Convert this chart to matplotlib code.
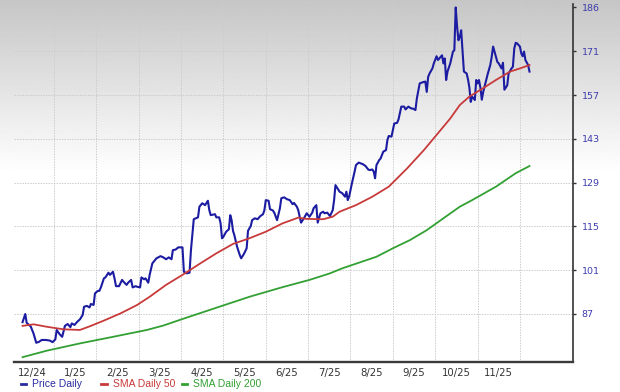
import matplotlib
matplotlib.use('Agg')
import matplotlib.pyplot as plt
from matplotlib.lines import Line2D
import numpy as np
import pandas as pd

# daily price
price_dates = [
    '2024-12-09', '2024-12-11', '2024-12-12', '2024-12-15', '2024-12-17', '2024-12-19', '2024-12-21',
    '2024-12-23', '2024-12-26', '2024-12-29', '2024-12-31',
    '2025-01-02', '2025-01-03', '2025-01-05', '2025-01-07', '2025-01-09', '2025-01-11', '2025-01-13',
    '2025-01-14', '2025-01-16', '2025-01-18', '2025-01-20', '2025-01-22', '2025-01-23', '2025-01-25',
    '2025-01-27', '2025-01-28', '2025-01-30', '2025-01-31',
    '2025-02-02', '2025-02-03', '2025-02-04', '2025-02-06', '2025-02-07', '2025-02-09', '2025-02-10',
    '2025-02-12', '2025-02-13', '2025-02-14', '2025-02-16', '2025-02-18', '2025-02-19', '2025-02-21',
    '2025-02-22', '2025-02-24', '2025-02-25', '2025-02-27', '2025-02-28',
    '2025-03-02', '2025-03-03', '2025-03-05', '2025-03-06', '2025-03-08', '2025-03-09', '2025-03-11',
    '2025-03-14', '2025-03-17', '2025-03-19', '2025-03-21', '2025-03-23', '2025-03-25', '2025-03-26',
    '2025-03-28', '2025-03-30',
    '2025-04-02', '2025-04-03', '2025-04-05', '2025-04-07', '2025-04-08', '2025-04-10', '2025-04-13',
    '2025-04-14', '2025-04-16', '2025-04-18', '2025-04-20', '2025-04-21', '2025-04-22', '2025-04-25',
    '2025-04-26', '2025-04-28', '2025-04-29', '2025-04-30',
    '2025-05-01', '2025-05-03', '2025-05-05', '2025-05-06', '2025-05-07', '2025-05-08', '2025-05-09',
    '2025-05-11', '2025-05-13', '2025-05-14', '2025-05-16', '2025-05-18', '2025-05-19', '2025-05-21',
    '2025-05-22', '2025-05-24', '2025-05-26', '2025-05-28', '2025-05-30', '2025-05-31',
    '2025-06-01', '2025-06-03', '2025-06-04', '2025-06-06', '2025-06-07', '2025-06-09', '2025-06-11',
    '2025-06-12', '2025-06-14', '2025-06-16', '2025-06-18', '2025-06-20', '2025-06-21', '2025-06-23',
    '2025-06-24', '2025-06-25', '2025-06-26', '2025-06-28', '2025-06-30',
    '2025-07-02', '2025-07-04', '2025-07-05', '2025-07-07', '2025-07-08', '2025-07-10', '2025-07-12',
    '2025-07-13', '2025-07-15', '2025-07-17', '2025-07-19', '2025-07-20', '2025-07-21', '2025-07-23',
    '2025-07-24', '2025-07-26', '2025-07-28', '2025-07-29', '2025-07-30', '2025-07-31',
    '2025-08-02', '2025-08-04', '2025-08-05', '2025-08-07', '2025-08-10', '2025-08-12', '2025-08-14',
    '2025-08-15', '2025-08-17', '2025-08-18', '2025-08-19', '2025-08-20', '2025-08-22', '2025-08-23',
    '2025-08-25', '2025-08-27', '2025-08-28', '2025-08-29', '2025-08-31',
    '2025-09-02', '2025-09-04', '2025-09-05', '2025-09-07', '2025-09-09', '2025-09-10', '2025-09-12',
    '2025-09-14', '2025-09-15', '2025-09-17', '2025-09-18', '2025-09-20', '2025-09-21', '2025-09-23',
    '2025-09-24', '2025-09-25', '2025-09-26', '2025-09-27', '2025-09-29', '2025-09-30',
    '2025-10-02', '2025-10-03', '2025-10-04', '2025-10-06', '2025-10-07', '2025-10-08', '2025-10-09',
    '2025-10-10', '2025-10-12', '2025-10-14', '2025-10-15', '2025-10-16', '2025-10-17', '2025-10-18',
    '2025-10-19', '2025-10-20', '2025-10-21', '2025-10-22', '2025-10-24', '2025-10-25', '2025-10-26',
    '2025-10-27', '2025-10-28', '2025-10-30', '2025-10-31',
    '2025-11-01', '2025-11-02', '2025-11-03', '2025-11-04', '2025-11-05', '2025-11-06', '2025-11-08',
    '2025-11-10', '2025-11-11', '2025-11-12', '2025-11-14', '2025-11-15', '2025-11-16', '2025-11-18',
    '2025-11-19', '2025-11-20', '2025-11-22', '2025-11-23', '2025-11-25', '2025-11-26', '2025-11-27',
    '2025-11-28', '2025-11-29',
    '2025-12-01', '2025-12-02', '2025-12-03', '2025-12-04', '2025-12-05', '2025-12-07', '2025-12-08',
]
price = [
    84.4, 87.0, 84.2, 83.0, 80.8, 77.8, 78.1, 78.7, 78.7, 78.5, 78.0,
    78.9, 81.9, 80.6, 79.7, 83.2, 83.8, 82.8, 84.0, 83.5, 84.5, 85.3, 86.7, 89.3, 89.6, 89.1, 90.2, 89.9, 93.6,
    94.4, 94.4, 95.5, 98.4, 98.7, 100.2, 99.5, 100.5, 98.4, 95.9, 95.9, 97.9, 97.3, 96.3, 97.0, 97.9, 95.5,
    95.9, 95.7,
    95.5, 98.7, 98.1, 98.4, 97.0, 99.5, 103.2, 104.8, 105.5, 105.1, 104.5, 105.1, 104.5, 107.4, 107.6, 108.3,
    108.3, 100.5, 100.0, 100.2, 107.4, 117.3, 117.9, 121.3, 122.4, 121.8, 123.2, 120.2, 118.6, 118.9, 117.9,
    117.9, 116.0, 111.2,
    111.7, 113.3, 114.1, 118.6, 117.0, 113.6, 112.2, 108.5, 105.8, 104.8, 106.2, 108.0, 113.6, 115.1, 117.0,
    117.6, 117.3, 118.3, 118.9, 120.2,
    123.4, 123.2, 120.5, 120.1, 119.4, 117.0, 120.8, 124.0, 124.3, 123.7, 123.4, 122.1, 122.5, 121.3, 120.2,
    118.1, 116.2, 117.6, 119.2,
    118.1, 119.4, 120.8, 121.8, 116.2, 119.2, 119.7, 119.2, 119.4, 118.3, 120.2, 123.4, 128.2, 126.8, 126.1,
    125.6, 124.5, 126.1, 123.4, 124.5,
    128.7, 132.5, 134.6, 135.4, 134.9, 134.3, 133.2, 133.0, 133.2, 132.5, 130.4, 134.6, 136.2, 136.7, 138.9,
    139.4, 142.6, 143.9, 143.7,
    147.9, 148.1, 149.2, 153.3, 153.3, 152.4, 153.3, 152.7, 152.7, 152.2, 155.9, 160.7, 160.9, 161.2, 161.3,
    158.0, 162.8, 163.9, 165.5, 167.1,
    169.4, 168.2, 168.7, 169.7, 167.1, 168.7, 161.8, 164.5, 167.1, 170.9, 171.3, 185.0, 178.9, 174.5, 175.6,
    177.7, 171.3, 164.5, 163.9, 162.0, 159.4, 154.8, 156.5, 155.4, 161.8,
    160.7, 161.8, 159.4, 155.5, 158.0, 159.8, 163.4, 166.6, 169.2, 172.5, 169.2, 167.6, 167.1, 165.5, 167.3,
    158.7, 160.1, 163.9, 165.5, 166.0, 171.9, 173.7, 173.5,
    172.5, 170.3, 169.4, 170.9, 168.2, 166.6, 164.5,
]

sma50_dates = [
    '2024-12-09', '2024-12-17', '2024-12-27', '2025-01-08', '2025-01-20', '2025-01-28', '2025-02-06',
    '2025-02-17', '2025-02-28', '2025-03-09', '2025-03-21', '2025-04-02', '2025-04-14', '2025-04-26',
    '2025-05-08', '2025-05-20', '2025-06-01', '2025-06-13', '2025-06-24', '2025-06-30', '2025-07-12',
    '2025-07-19', '2025-07-24', '2025-08-05', '2025-08-17', '2025-08-29', '2025-09-11', '2025-09-23',
    '2025-10-04', '2025-10-12', '2025-10-19', '2025-10-26', '2025-11-05', '2025-11-14', '2025-11-24',
    '2025-12-01', '2025-12-08',
]
sma50 = [
    83.2, 83.7, 82.9, 82.1, 81.9, 83.2, 84.9, 87.2, 89.9, 92.5, 96.3, 99.5, 103.0, 106.4, 109.4, 111.2,
    113.3, 116.0, 117.8, 117.4, 117.3, 118.1, 119.7, 121.8, 124.5, 127.7, 133.5, 139.4, 145.3, 149.5,
    153.8, 156.5, 159.2, 161.8, 164.5, 165.5, 166.6,
]

sma200_dates = [
    '2024-12-09', '2024-12-27', '2025-01-20', '2025-02-12', '2025-03-07', '2025-03-19', '2025-04-02',
    '2025-04-26', '2025-05-20', '2025-06-13', '2025-07-02', '2025-07-17', '2025-07-26', '2025-08-20',
    '2025-09-01', '2025-09-13', '2025-09-25', '2025-10-07', '2025-10-19', '2025-10-28', '2025-11-14',
    '2025-11-28', '2025-12-08',
]
sma200 = [
    73.2, 75.3, 77.6, 79.7, 81.9, 83.3, 85.4, 89.0, 92.5, 95.6, 97.9, 100.0, 101.6, 105.3, 108.0, 110.6,
    113.8, 117.6, 121.3, 123.4, 127.7, 132.0, 134.3,
]

month_labels = ['12/24', '1/25', '2/25', '3/25', '4/25', '5/25', '6/25',
                '7/25', '8/25', '9/25', '10/25', '11/25']
y_ticks = [87, 101, 115, 129, 143, 157, 171, 185]
y_labels = ['87', '101', '115', '129', '143', '157', '171', '186']


def month_pos(dates):
    # months since 1 Dec 2024, every month the same width
    d = pd.to_datetime(dates)
    return np.asarray((d.year - 2024) * 12 + d.month - 12 + (d.day - 1) / d.days_in_month, dtype=float)


W, H = 620, 392
fig = plt.figure(figsize=(W / 100, H / 100), dpi=100)

# grey-to-white gradient behind everything
bg = fig.add_axes([0, 0, 1, 1], zorder=0)
rows = np.arange(H)
shade = np.clip(0.775 + 0.225 * rows / 172, 0, 1)[:, None]
bg.imshow(shade, cmap='gray', vmin=0, vmax=1, aspect='auto', extent=[0, 1, 0, 1], origin='upper')
bg.axis('off')

left, right, bottom, top = 14, 573.3, 361.7, 4
ax = fig.add_axes([left / W, 1 - bottom / H, (right - left) / W, (bottom - top) / H], zorder=1)
ax.set_facecolor('none')

ax.plot(month_pos(price_dates), price, color='#1c1ca2', lw=1.5, solid_joinstyle='round', zorder=3)
ax.plot(month_pos(sma50_dates), sma50, color='#c83a3a', lw=1.3, zorder=4)
ax.plot(month_pos(sma200_dates), sma200, color='#33a033', lw=1.3, zorder=4)

ax.set_xlim(0.056, 13.26)
ax.set_ylim(71.75, 186.1)

# month boundaries as gridlines, labels centred in each month
grid_kw = dict(color='#cdcdcd', lw=0.7, ls=(0, (1.5, 1.2)), zorder=1)
for m in range(1, 13):
    ax.axvline(m, **grid_kw)
for v in y_ticks[:-1]:
    ax.axhline(v, **grid_kw)

ax.set_xticks(np.arange(len(month_labels)) + 0.5)
ax.set_xticklabels(month_labels, fontsize=7.3, color='#333333')
ax.tick_params(axis='x', length=0, pad=4.5)

ax.yaxis.tick_right()
ax.set_yticks(y_ticks)
ax.set_yticklabels(y_labels, fontsize=6.8, color='#3c3cac')
ax.tick_params(axis='y', direction='out', length=2.5, width=1, color='#333333', pad=3.5)

for s in ['top', 'left']:
    ax.spines[s].set_visible(False)
ax.spines['bottom'].set_linewidth(1.7)
ax.spines['bottom'].set_color('#3a3a3a')
ax.spines['right'].set_linewidth(1.2)
ax.spines['right'].set_color('#333333')

# legend row under the month labels
legend_items = [('Price Daily', '#2a2aa0', 20.5), ('SMA Daily 50', '#c83a3a', 101.5),
                ('SMA Daily 200', '#33a033', 181.5)]
ly = 1 - 384.3 / H
for name, col, x0 in legend_items:
    fig.add_artist(Line2D([x0 / W, (x0 + 5.5) / W], [ly, ly], transform=fig.transFigure,
                          color=col, lw=2))
    fig.text((x0 + 11.5) / W, ly, name, color=col, fontsize=7.5, family='Liberation Sans',
             va='center', ha='left')

fig.savefig('out.png', dpi=100)
